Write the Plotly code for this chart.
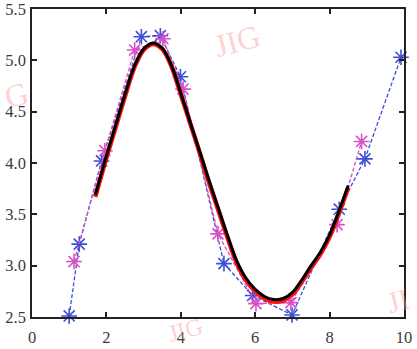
import plotly.graph_objects as go

# Blue measured series
blue_x = [1.0, 1.27, 1.87, 2.94, 3.45, 3.99, 5.16, 5.93, 6.99, 8.26, 8.95, 9.92]
blue_y = [2.51, 3.21, 4.02, 5.23, 5.24, 4.84, 3.02, 2.71, 2.52, 3.55, 4.04, 5.03]

# Magenta series
mag_x = [1.13, 1.96, 2.76, 3.52, 4.06, 5.0, 6.02, 6.96, 8.2, 8.86]
mag_y = [3.04, 4.12, 5.10, 5.21, 4.72, 3.31, 2.63, 2.64, 3.40, 4.21]

# Smooth fitted curve (black) and red curve
curve_x = [1.7, 2.0, 2.25, 2.5, 2.75, 3.0, 3.25, 3.5, 3.75, 4.0, 4.25, 4.5, 4.75,
           5.0, 5.25, 5.5, 5.75, 6.0, 6.25, 6.5, 6.75, 7.0, 7.25, 7.5, 7.75, 8.0,
           8.25, 8.5]
curve_y = [3.69, 4.07, 4.37, 4.67, 4.94, 5.11, 5.17, 5.12, 4.95, 4.68, 4.40, 4.12,
           3.84, 3.57, 3.30, 3.05, 2.88, 2.77, 2.70, 2.67, 2.68, 2.74, 2.86, 3.0,
           3.13, 3.30, 3.53, 3.78]
red_y = [3.67, 4.05, 4.35, 4.65, 4.93, 5.10, 5.16, 5.11, 4.94, 4.67, 4.39, 4.11,
         3.82, 3.55, 3.28, 3.03, 2.86, 2.75, 2.68, 2.65, 2.66, 2.72, 2.84, 2.98,
         3.11, 3.28, 3.51, 3.76]

x_ticks = [0, 2, 4, 6, 8, 10]
y_ticks = [2.5, 3.0, 3.5, 4.0, 4.5, 5.0, 5.5]
y_tick_text = ["2.5", "3.0", "3.5", "4.0", "4.5", "5.0", "5.5"]

# Watermark texts (pixel positions in the picture)
wm_texts = ["JIG", "G", "JI", "JIG"]
wm_px = [237, 16, 398, 185]
wm_py = [41, 95, 300, 330]
wm_size = [32, 32, 30, 24]

fig = go.Figure()

fig.add_trace(go.Scatter(
    x=blue_x, y=blue_y, mode="lines+markers",
    line=dict(color="#3d4fd6", width=1.3, dash="4px,2px"),
    marker=dict(symbol="asterisk-open", size=13, color="#3d4fd6",
                line=dict(color="#3d4fd6", width=1.6)),
    cliponaxis=False, showlegend=False))

fig.add_trace(go.Scatter(
    x=mag_x, y=mag_y, mode="lines+markers",
    line=dict(color="#d84fc8", width=1.3, dash="4px,2px"),
    marker=dict(symbol="asterisk-open", size=13, color="#d84fc8",
                line=dict(color="#d84fc8", width=1.6)),
    cliponaxis=False, showlegend=False))

fig.add_trace(go.Scatter(
    x=curve_x, y=red_y, mode="lines", line_shape="spline",
    line=dict(color="#ff1010", width=4.5), showlegend=False))

fig.add_trace(go.Scatter(
    x=curve_x, y=curve_y, mode="lines", line_shape="spline",
    line=dict(color="#000000", width=3), showlegend=False))

axis_common = dict(
    showgrid=False, zeroline=False, showline=True, mirror="ticks",
    linecolor="#222222", linewidth=1.5, ticks="inside", ticklen=5,
    tickcolor="#222222", tickwidth=1.5, automargin=False,
    ticklabeloverflow="allow",
    tickfont=dict(family="Liberation Serif", size=16.5, color="#3a3a3a"),
)

fig.update_xaxes(range=[0, 10], tickvals=x_ticks, ticklabelstandoff=4, **axis_common)
fig.update_yaxes(range=[2.5, 5.5], tickvals=y_ticks, ticktext=y_tick_text,
                 ticklabelstandoff=1, **axis_common)

L, R, T, B = 32, 404, 9, 317
for t, px, py, sz in zip(wm_texts, wm_px, wm_py, wm_size):
    fig.add_annotation(
        x=(px - L) / (R - L), y=1 - (py - T) / (B - T),
        xref="paper", yref="paper", text=t, showarrow=False,
        font=dict(family="Liberation Serif", size=sz, color="rgba(255,150,150,0.45)"),
        textangle=-15, xanchor="center", yanchor="middle")

fig.update_layout(
    width=417, height=349,
    margin=dict(l=L, r=417 - R, t=T, b=349 - B, autoexpand=False),
    paper_bgcolor="white", plot_bgcolor="white",
)

fig.write_html(
    "out.html",
    config={"displayModeBar": False},
    post_script="document.body.style.margin='0';document.body.style.overflow='hidden';",
)
